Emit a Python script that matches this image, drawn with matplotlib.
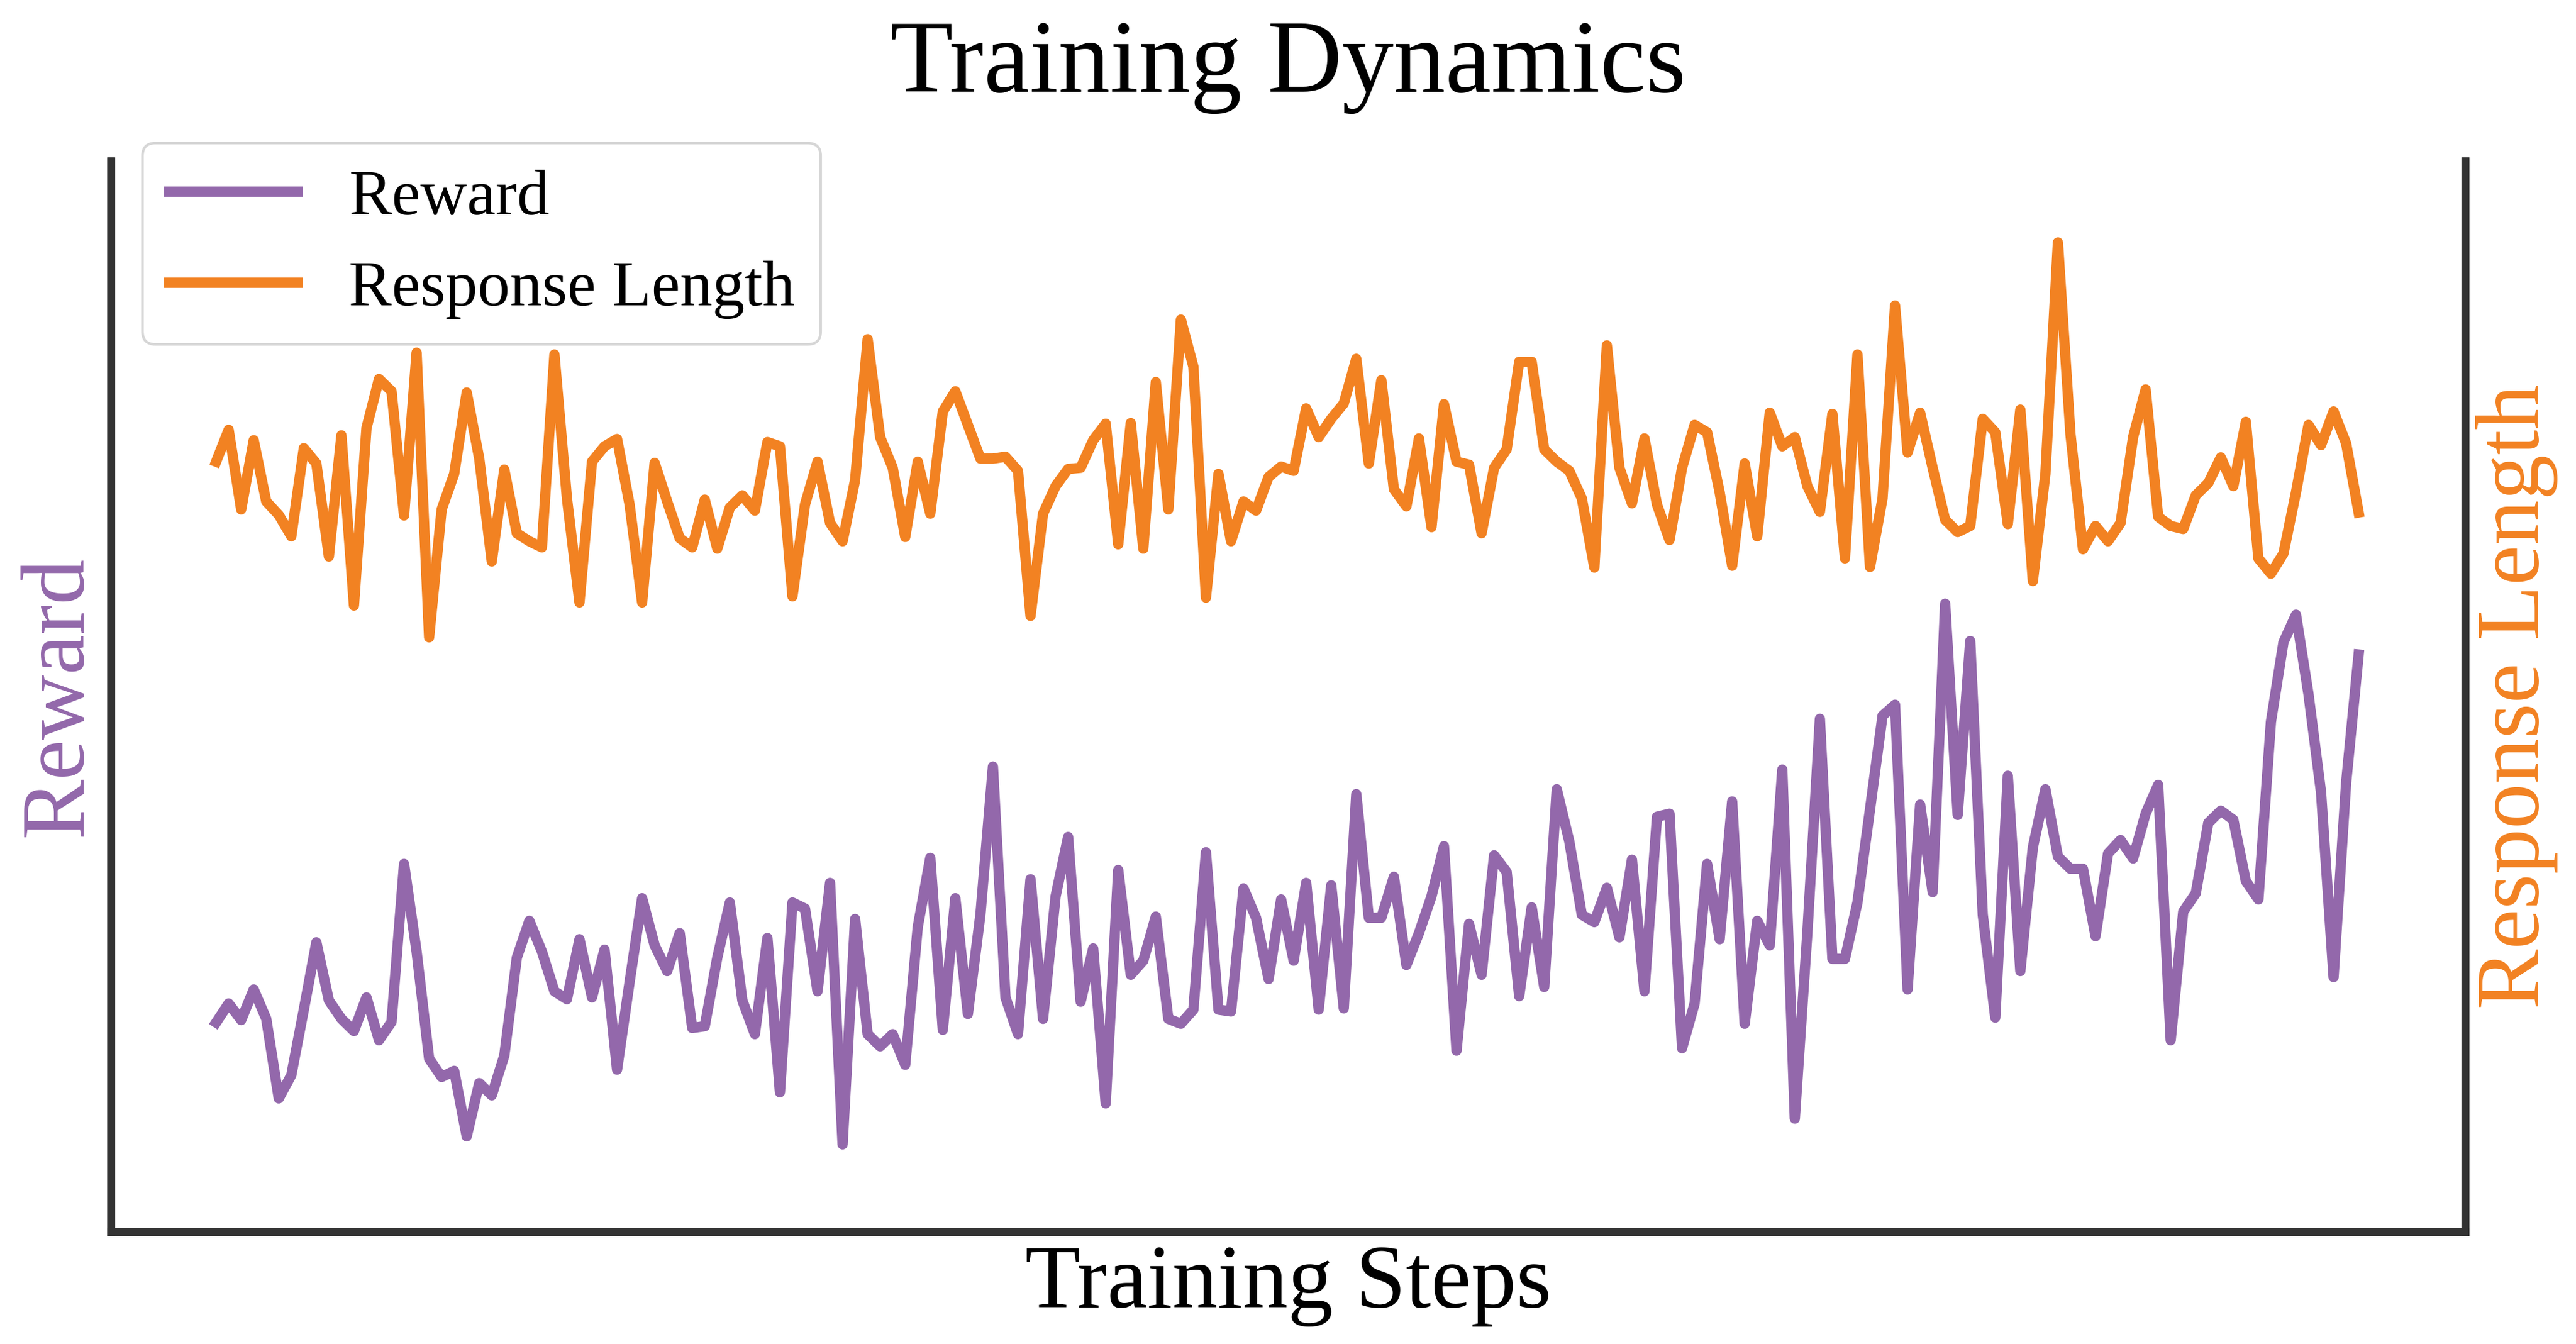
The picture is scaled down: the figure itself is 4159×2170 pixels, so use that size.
import numpy as np
import matplotlib
matplotlib.use("Agg")
import matplotlib.pyplot as plt

plt.rcParams["font.family"] = "serif"
plt.rcParams["font.serif"] = ["Liberation Serif", "DejaVu Serif"]

# values (no axis ticks shown)
reward = [
    0.284, 0.315, 0.288, 0.338, 0.290, 0.160, 0.198, 0.305, 0.415, 0.320,
    0.290, 0.270, 0.325, 0.255, 0.285, 0.543, 0.400, 0.225, 0.195, 0.205,
    0.098, 0.185, 0.165, 0.230, 0.390, 0.450, 0.400, 0.335, 0.322, 0.420,
    0.325, 0.403, 0.207, 0.350, 0.487, 0.410, 0.368, 0.430, 0.275, 0.278,
    0.390, 0.480, 0.320, 0.265, 0.422, 0.170, 0.480, 0.470, 0.335, 0.512,
    0.085, 0.453, 0.265, 0.245, 0.265, 0.215, 0.440, 0.553, 0.272, 0.487,
    0.298, 0.460, 0.702, 0.325, 0.265, 0.518, 0.290, 0.490, 0.587, 0.318,
    0.405, 0.152, 0.533, 0.362, 0.385, 0.457, 0.290, 0.282, 0.305, 0.562,
    0.305, 0.302, 0.503, 0.455, 0.355, 0.485, 0.385, 0.512, 0.305, 0.508,
    0.307, 0.657, 0.455, 0.455, 0.522, 0.378, 0.430, 0.490, 0.572, 0.238,
    0.445, 0.362, 0.557, 0.530, 0.327, 0.472, 0.342, 0.665, 0.580, 0.460,
    0.448, 0.504, 0.423, 0.550, 0.335, 0.620, 0.625, 0.242, 0.315, 0.543,
    0.420, 0.645, 0.282, 0.450, 0.410, 0.697, 0.127, 0.430, 0.780, 0.388,
    0.388, 0.480, 0.632, 0.785, 0.803, 0.338, 0.640, 0.497, 0.968, 0.623,
    0.907, 0.460, 0.292, 0.687, 0.368, 0.570, 0.665, 0.555, 0.535, 0.535,
    0.425, 0.560, 0.582, 0.552, 0.625, 0.672, 0.255, 0.465, 0.495, 0.610,
    0.630, 0.615, 0.515, 0.485, 0.775, 0.905, 0.950, 0.820, 0.660, 0.358,
    0.675, 0.885,
]

response_length = [
    1600, 1652, 1522, 1635, 1535, 1513, 1478, 1622, 1597, 1445,
    1643, 1365, 1655, 1735, 1715, 1512, 1778, 1313, 1522, 1580,
    1713, 1605, 1437, 1587, 1483, 1470, 1460, 1775, 1540, 1370,
    1600, 1625, 1637, 1530, 1370, 1598, 1535, 1475, 1460, 1538,
    1458, 1525, 1545, 1520, 1632, 1625, 1380, 1530, 1600, 1500,
    1470, 1570, 1800, 1640, 1590, 1477, 1600, 1515, 1682, 1715,
    1660, 1605, 1605, 1608, 1585, 1348, 1515, 1560, 1588, 1590,
    1635, 1662, 1465, 1663, 1458, 1730, 1522, 1832, 1755, 1378,
    1580, 1470, 1535, 1520, 1575, 1592, 1585, 1687, 1640, 1670,
    1695, 1768, 1597, 1733, 1555, 1527, 1638, 1493, 1694, 1600,
    1595, 1483, 1590, 1620, 1763, 1763, 1620, 1600, 1585, 1540,
    1427, 1790, 1590, 1532, 1638, 1530, 1472, 1590, 1660, 1648,
    1550, 1430, 1597, 1478, 1680, 1625, 1640, 1560, 1518, 1678,
    1442, 1775, 1428, 1540, 1855, 1615, 1680, 1590, 1505, 1485,
    1495, 1670, 1648, 1498, 1685, 1405, 1580, 1958, 1645, 1457,
    1495, 1470, 1500, 1640, 1718, 1510, 1495, 1490, 1545, 1565,
    1607, 1560, 1665, 1442, 1417, 1450, 1550, 1660, 1627, 1682,
    1630, 1517,
]

steps = np.arange(1, len(reward) + 1)

purple = "#9368ab"
orange = "#f28222"
spine_col = "#333333"

fig = plt.figure(figsize=(4159 / 300, 2170 / 300), dpi=300)
ax = fig.add_axes([0.04304, 0.08341, 0.91392, 0.79677])
ax2 = ax.twinx()

l1, = ax.plot(steps, reward, color=purple, lw=4.0, label="Reward")
l2, = ax2.plot(steps, response_length, color=orange, lw=4.0, label="Response Length")

ax.set_xlim(-7.4, 180.5)
ax.set_ylim(-0.058, 1.691)
ax2.set_ylim(342, 2091)

for a in (ax, ax2):
    a.set_xticks([])
    a.set_yticks([])
    a.spines["top"].set_visible(False)
    for s in ("left", "right", "bottom"):
        a.spines[s].set_color(spine_col)
        a.spines[s].set_linewidth(3.0)

ax.set_xlabel("Training Steps", fontsize=35, labelpad=5)
ax.set_ylabel("Reward", fontsize=35, color=purple)
ax2.set_ylabel("Response Length", fontsize=35, color=orange)
ax.set_title("Training Dynamics", fontsize=40, pad=27)

ax2.legend([l1, l2], ["Reward", "Response Length"], fontsize=25,
           loc="upper left", bbox_to_anchor=(0.01342, 1.0168),
           borderaxespad=0)

fig.savefig("out.png", dpi=300)
